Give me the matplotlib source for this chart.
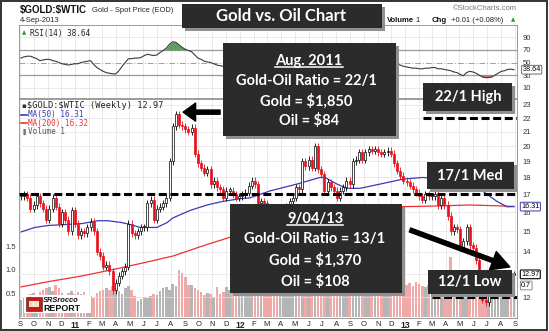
import numpy as np
import pandas as pd
import matplotlib
matplotlib.use("Agg")
import matplotlib.pyplot as plt
from matplotlib.patches import Rectangle
from matplotlib.lines import Line2D
from matplotlib.ticker import FixedLocator, NullLocator

W, H, DPI = 549, 331, 100

# ---------------- data (weekly, first week = 3-Sep-2010) ----------------
closes = [16.9, 17.0, 16.8, 16.2, 16.4, 16.9, 16.5, 16.2, 15.6, 16.2,
          16.8, 16.3, 15.4, 16.0, 15.6, 15.0, 16.1, 15.4, 14.8, 15.0,
          14.9, 15.2, 15.5, 15.0, 14.0, 13.8, 13.3, 13.4, 13.1, 12.3,
          12.6, 12.9, 13.1, 13.3, 15.4, 14.9, 14.8, 15.0, 15.2, 15.2,
          16.5, 16.7, 15.6, 16.2, 16.3, 16.5, 16.8, 19.0, 21.4, 22.3,
          21.5, 21.4, 21.2, 21.0, 21.3, 19.5, 18.9, 18.6, 18.3, 18.5,
          17.6, 17.8, 17.4, 17.3, 16.8, 17.2, 17.2, 17.0, 16.8, 16.9,
          17.0, 17.1, 17.5, 17.8, 17.6, 16.5, 16.6, 16.5, 16.2, 15.9,
          15.8, 15.6, 15.9, 16.1, 16.3, 16.6, 16.8, 17.4, 17.3, 19.0,
          18.7, 19.1, 18.6, 20.0, 18.5, 18.2, 17.2, 17.7, 17.4, 17.2,
          16.8, 17.2, 17.4, 17.8, 17.6, 19.0, 19.1, 19.6, 19.1, 19.6,
          19.8, 19.7, 19.8, 19.6, 19.5, 19.6, 19.7, 19.5, 18.9, 18.4,
          18.1, 17.8, 17.7, 17.5, 17.3, 17.1, 16.9, 16.7, 17.0, 16.9,
          16.9, 17.0, 16.4, 16.8, 16.4, 15.8, 15.0, 15.2, 15.1, 14.2,
          14.5, 15.2, 14.3, 14.2, 13.6, 12.7, 11.9, 11.8, 12.1, 12.3,
          12.5, 12.6, 12.8, 12.9, 13.0, 12.96, 12.97]

volumes = [0.36, 0.40, 0.45, 0.48, 0.51, 0.47, 0.54, 0.58, 0.61, 0.64,
           0.55, 0.68, 0.62, 0.51, 0.45, 0.52, 0.56, 0.49, 0.54, 0.50,
           0.54, 0.47, 0.44, 0.40, 0.52, 0.55, 0.58, 0.61, 0.57, 0.66,
           0.58, 0.55, 0.50, 0.61, 0.65, 0.57, 0.45, 0.33, 0.38, 0.42,
           0.40, 0.44, 0.50, 0.47, 0.55, 0.61, 0.64, 0.58, 0.70, 0.66,
           1.00, 0.93, 0.86, 0.68, 0.68, 0.62, 0.58, 0.54, 0.47, 0.51,
           0.48, 0.43, 0.64, 0.50, 0.54, 0.64, 0.58, 0.52, 0.47, 0.55,
           0.50, 0.48, 0.53, 0.57, 0.60, 0.55, 0.52, 0.49, 0.53, 0.56,
           0.58, 0.54, 0.50, 0.52, 0.57, 0.61, 0.55, 0.50, 0.58, 0.72,
           0.64, 0.59, 0.55, 0.68, 0.62, 0.57, 0.54, 0.50, 0.52, 0.55,
           0.58, 0.52, 0.49, 0.54, 0.56, 0.62, 0.58, 0.55, 0.51, 0.53,
           0.50, 0.48, 0.52, 0.55, 0.57, 0.54, 0.50, 0.53, 0.60, 0.63,
           0.66, 0.70, 0.68, 0.72, 0.65, 0.74, 0.70, 0.66, 0.64, 0.68,
           0.72, 0.66, 0.70, 0.74, 0.78, 0.85, 1.28, 0.80, 0.74, 0.70,
           0.76, 0.72, 0.68, 0.74, 0.80, 0.78, 0.74, 0.70, 0.66, 0.62,
           0.64, 0.60, 0.62, 0.66, 0.64, 0.70, 0.70]

rsi_values = [57, 59, 60, 60, 58, 56, 53, 54, 55, 55,
              53, 52, 50, 48, 47, 46, 47, 48, 48, 50,
              51, 52, 53, 47, 42, 39, 36, 34, 33, 32,
              32, 37, 44, 50, 56, 56, 57, 57, 58, 61,
              63, 62, 61, 62, 66, 69, 73, 79, 83, 82,
              78, 74, 71, 69, 67, 62, 57, 55, 52, 51,
              50, 48, 46, 45, 44, 45, 47, 46, 45, 46,
              48, 50, 52, 51, 47, 44, 43, 42, 41, 42,
              43, 44, 46, 48, 50, 52, 54, 56, 55, 60,
              59, 60, 58, 62, 57, 55, 51, 53, 52, 50,
              48, 50, 52, 54, 53, 58, 59, 61, 59, 61,
              62, 61, 61, 60, 59, 58, 58, 56, 52, 48,
              46, 44, 43, 42, 41, 41, 40, 40, 41, 41,
              42, 42, 40, 40, 39, 38, 37, 35, 34, 31,
              29, 34, 36, 35, 33, 30, 27, 26, 26, 27,
              30, 33, 36, 37, 39, 39.5, 38.64]

ma50_weeks = [0, 4.4, 8.5, 13.9, 19.3, 24.4, 27.5, 32, 34.5, 37.7, 43, 46.2,
              48.1, 53.5, 58.9, 63.9, 69.3, 72.5, 78.8, 87.3, 94.6, 96.2, 100,
              103.2, 107.3, 113.6, 120.9, 127.2, 135, 141, 146, 150.6, 153.8, 156]
ma50_values = [14.97, 15.2, 15.3, 15.35, 15.4, 15.55, 15.55, 15.45, 15.35, 15.2,
               15.2, 15.45, 15.7, 16.1, 16.4, 16.6, 16.75, 16.8, 17.2, 17.6,
               18.0, 18.0, 17.6, 17.35, 17.35, 17.6, 17.9, 18.0, 17.9, 17.6,
               17.2, 16.6, 16.3, 16.31]
ma200_weeks = [0, 8.5, 19.3, 29.7, 39.2, 48.1, 58.9, 66.1, 75, 85, 95, 107.3,
               116.8, 125, 132.6, 142, 151.6, 156]
ma200_values = [12.43, 12.65, 12.9, 13.2, 13.5, 13.8, 14.35, 14.7, 15.1, 15.5,
                15.9, 16.35, 16.3, 16.32, 16.35, 16.4, 16.35, 16.32]

month_labels = ['S', 'O', 'N', 'D', '11', 'F', 'M', 'A', 'M', 'J', 'J', 'A',
                'S', 'O', 'N', 'D', '12', 'F', 'M', 'A', 'M', 'J', 'J', 'A',
                'S', 'O', 'N', 'D', '13', 'F', 'M', 'A', 'M', 'J', 'J', 'A', 'S']
price_ticks = [12, 13, 14, 15, 16, 17, 18, 19, 20, 21, 22, 23]
price_tick_labels = ['12', '', '14', '15', '16', '17', '18', '19', '20', '21', '22', '23']
rsi_ticks = [10, 30, 50, 70, 90]
vol_ticks = [0.5, 1.0, 1.5]

assert len(closes) == len(volumes) == len(rsi_values) == 157

start = pd.Timestamp('2010-09-03')
month_pos = np.asarray((pd.date_range('2010-09-01', '2013-09-01', freq='MS') - start).days) / 7.0

RED = '#e8101c'
BOXC = '#2b2b2b'
GRID = '#e2e2e2'
SANS = 'Liberation Sans'
MONO = 'DejaVu Sans Mono'
BOLDF = 'Lato'

fig = plt.figure(figsize=(W / DPI, H / DPI), dpi=DPI)
fig.patch.set_facecolor('white')


def fx(px):
    return px / W


def fy(py):
    return 1 - py / H


def T(x, y, s, **kw):
    kw.setdefault('va', 'center')
    kw.setdefault('parse_math', False)
    return fig.text(fx(x), fy(y), s, **kw)


XL, XR = 19, 517
xlim = (-0.63, 156.96)

# ---------------- RSI panel ----------------
axr = fig.add_axes([fx(XL), fy(98), (XR - XL) / W, 73 / H])
n = len(closes)
weeks = np.arange(n)
r = np.array(rsi_values, dtype=float)
axr.set_xlim(*xlim)
axr.set_ylim(-6.3, 109.5)
for xv in month_pos:
    axr.axvline(xv, color=GRID, lw=0.5, zorder=0)
for yv in [10, 90]:
    axr.axhline(yv, color=GRID, lw=0.5, zorder=0)
axr.axhline(70, color='#9a9a9a', lw=0.9, zorder=1)
axr.axhline(30, color='#9a9a9a', lw=0.9, zorder=1)
axr.axhline(50, color='#a0a0a0', lw=0.7, ls=(0, (6, 2, 1, 2)), zorder=1)
axr.fill_between(weeks, 70, r, where=r > 70, interpolate=True, color='#5e9e5e', zorder=2, lw=0)
axr.fill_between(weeks, 30, r, where=r < 30, interpolate=True, color='#c87272', zorder=2, lw=0)
axr.plot(weeks, r, color='#3a3a3a', lw=0.8, zorder=3)
axr.yaxis.tick_right()
axr.yaxis.set_major_locator(FixedLocator(rsi_ticks))
axr.set_yticklabels([str(t) for t in rsi_ticks], fontsize=5.5, family=SANS, color='#333')
axr.tick_params(axis='y', length=0, pad=4)
axr.set_xticks([])
for sp in axr.spines.values():
    sp.set_color('#8a8a8a')
    sp.set_linewidth(0.6)
axr.text(0.006, 0.93, '\u25b2', transform=axr.transAxes, fontsize=4, color='#3d8a3d', va='top')
axr.text(0.022, 0.94, 'RSI(14) 38.64', transform=axr.transAxes, fontsize=5.6, family=MONO, color='#222', va='top')
axr.annotate('38.64', xy=(1, 38.64), xycoords=('axes fraction', 'data'), xytext=(4, 0),
             textcoords='offset points', fontsize=5.2, family=SANS, va='center', ha='left',
             bbox=dict(boxstyle='round,pad=0.12', fc='white', ec='#555', lw=0.6), annotation_clip=False)

# ---------------- main panel ----------------
axv = fig.add_axes([fx(XL), fy(318), (XR - XL) / W, 219 / H])
ax = axv.twinx()
axv.set_xlim(*xlim)
axv.set_ylim(-1 / 47, 218 / 47)
ax.set_yscale('log')
ax.set_ylim(11.19, 23.47)

c = np.array(closes)
o = np.r_[c[0], c[:-1]]
down = c < o
vcol = np.where(down, '#f0a9a9', '#b5b5b5')
axv.set_axisbelow(True)
axv.grid(axis='x', color=GRID, lw=0.5)
axv.bar(weeks, volumes, width=0.82, color=vcol, lw=0, zorder=1)
axv.yaxis.set_major_locator(FixedLocator(vol_ticks))
axv.set_yticklabels(['0.5', '1.0', '1.5'], fontsize=5.5, family=SANS, color='#333')
axv.tick_params(axis='y', length=0, pad=2)
axv.xaxis.set_major_locator(FixedLocator(month_pos))
axv.set_xticklabels(month_labels, fontsize=5.5, family=SANS, color='#222')
for lab in axv.get_xticklabels():
    if lab.get_text().isdigit():
        lab.set_fontweight('bold')
        lab.set_fontsize(6.2)
axv.tick_params(axis='x', length=0, pad=2.5)
for sp in axv.spines.values():
    sp.set_color('#8a8a8a')
    sp.set_linewidth(0.6)
for sp in ax.spines.values():
    sp.set_visible(False)

ax.set_axisbelow(True)
ax.yaxis.set_major_locator(FixedLocator(price_ticks))
ax.yaxis.set_minor_locator(NullLocator())
ax.set_yticklabels(price_tick_labels, fontsize=5.5, family=SANS, color='#333')
ax.tick_params(axis='y', length=0, pad=4)
ax.grid(axis='y', color=GRID, lw=0.5)

ax.plot(ma200_weeks, ma200_values, color='#f03030', lw=0.9, zorder=2)
ax.plot(ma50_weeks, ma50_values, color='#3a3ab4', lw=0.9, zorder=2)

top = np.maximum(o, c)
bot = np.minimum(o, c)
WICK = 1.012
ax.vlines(weeks, bot / WICK, top * WICK, colors=np.where(down, RED, 'black'), lw=0.6, zorder=3)
hgt = np.maximum(top - bot, bot * 0.006)
up = ~down
ax.bar(weeks[up], hgt[up], bottom=bot[up], width=0.64, facecolor='white', edgecolor='black', lw=0.5, zorder=4)
ax.bar(weeks[down], hgt[down], bottom=bot[down], width=0.64, facecolor=RED, edgecolor=RED, lw=0.5, zorder=4)

DASH = (0, (2.6, 1.2))
ax.axhline(17, color='black', lw=2.2, ls=DASH, zorder=5)
ax.hlines(22, 127.2, xlim[1], color='black', lw=2.2, ls=DASH, zorder=5)
ax.hlines(12, 130.1, xlim[1], color='black', lw=2.2, ls=DASH, zorder=5)

ax.annotate('', xy=(51.3, 22.45), xytext=(63.0, 22.45),
            arrowprops=dict(arrowstyle='simple,head_length=0.9,head_width=1.3,tail_width=0.3',
                            color='black', mutation_scale=10, shrinkA=0, shrinkB=0), zorder=6)
ax.annotate('', xy=(154.7, 13.3), xytext=(123.1, 15.07),
            arrowprops=dict(arrowstyle='simple,head_length=1.3,head_width=1.4,tail_width=0.3',
                            color='black', mutation_scale=10, shrinkA=0, shrinkB=0), zorder=6)

# right-edge value labels
ax.annotate('16.31', xy=(1, 16.31), xycoords=('axes fraction', 'data'), xytext=(3, 0),
            textcoords='offset points', fontsize=5.2, family=SANS, va='center', ha='left',
            bbox=dict(boxstyle='round,pad=0.12', fc='white', ec='#3a3ab4', lw=0.7), annotation_clip=False)
ax.annotate('12.97', xy=(1, 12.97), xycoords=('axes fraction', 'data'), xytext=(3, 0),
            textcoords='offset points', fontsize=5.2, family=SANS, va='center', ha='left',
            bbox=dict(boxstyle='round,pad=0.12', fc='white', ec='black', lw=0.8), annotation_clip=False)
axv.annotate('0.7', xy=(1, 0.7), xycoords=('axes fraction', 'data'), xytext=(3, -1),
             textcoords='offset points', fontsize=5.2, family=SANS, va='center', ha='left',
             bbox=dict(boxstyle='round,pad=0.12', fc='white', ec='#777', lw=0.6), annotation_clip=False)

# legend text in main panel
T(21, 106, '\u25aa', fontsize=5, color='#333')
T(27, 106, '$GOLD:$WTIC (Weekly) 12.97', fontsize=6.2, family=MONO, color='#222')
fig.add_artist(Line2D([fx(21), fx(27)], [fy(115)] * 2, color='#3a3ab4', lw=1.2))
T(28, 115, 'MA(50) 16.31', fontsize=5.5, family=MONO, color='#3a3ab4')
fig.add_artist(Line2D([fx(21), fx(27)], [fy(123.5)] * 2, color='#f03030', lw=1.2))
T(28, 123.5, 'MA(200) 16.32', fontsize=5.5, family=MONO, color='#f03030')
T(21, 132, '\u2590', fontsize=4.5, color='#777')
T(28, 132, 'Volume 1', fontsize=5.5, family=MONO, color='#555')

# ---------------- header ----------------
T(20, 10, '$GOLD:$WTIC', fontsize=7.0, family=SANS, weight='bold', color='#111')
T(92, 10.5, 'Gold - Spot Price (EOD)', fontsize=5.4, family=SANS, color='#222')
T(20, 20, '4-Sep-2013', fontsize=5.5, family=SANS, color='#222')
T(517, 9, '\u00a9StockCharts.com', fontsize=5.5, family=SANS, color='#777', ha='right')
T(387, 20, 'Volume', fontsize=5.6, family=SANS, weight='bold', color='#111')
T(415, 20, '1', fontsize=5.5, family=SANS, color='#222')
T(432, 20, 'Chg', fontsize=5.6, family=SANS, weight='bold', color='#111')
T(451, 20, '+0.01 (+0.08%)', fontsize=5.5, family=SANS, color='#222')
T(511, 19.5, '\u25b2', fontsize=4, family='DejaVu Sans', color='#2a9a2a')

# ---------------- annotation boxes ----------------


def box(x0, y0, x1, y1):
    fig.add_artist(Rectangle((fx(x0 + 3), fy(y1 + 3)), (x1 - x0) / W, (y1 - y0) / H,
                             facecolor='#909090', edgecolor='none', zorder=10))
    fig.add_artist(Rectangle((fx(x0), fy(y1)), (x1 - x0) / W, (y1 - y0) / H,
                             facecolor=BOXC, edgecolor='none', zorder=11))


def btext(x, y, s, size=10.5):
    return T(x, y, s, ha='center', fontsize=size, family=BOLDF, weight='bold', color='white', zorder=12)


box(182, 4, 382, 28)
btext(281, 16, 'Gold vs. Oil Chart', 12)

box(223, 43, 396, 136)
t1 = btext(309, 61, 'Aug. 2011')
btext(306, 81, 'Gold-Oil Ratio = 22/1')
btext(306, 101, 'Gold = $1,850')
btext(309, 121, 'Oil = $84')

box(423, 83, 512, 111)
btext(468, 97, '22/1 High')

box(427, 162, 514, 189)
btext(470, 176, '17/1 Med')

box(230, 204, 402, 293)
t2 = btext(315, 219, '9/04/13')
btext(315, 239, 'Gold-Oil Ratio = 13/1')
btext(315, 260, 'Gold = $1,370')
btext(315, 281, 'Oil = $108')

box(428, 270, 512, 294)
btext(470, 282, '12/1 Low')

# logo
fig.add_artist(Rectangle((fx(24), fy(313)), 67 / W, 18 / H, facecolor='white', edgecolor='none', zorder=10))
fig.add_artist(Rectangle((fx(26), fy(311)), 16 / W, 14 / H, facecolor='#d01818', edgecolor='#222', lw=0.4, zorder=11))
fig.add_artist(Rectangle((fx(29), fy(307)), 10 / W, 6 / H, facecolor='#f2e6c8', edgecolor='none', zorder=12))
T(43, 300, 'SRSrocco', fontsize=5.4, family=SANS, weight='bold', style='italic', color='#111', zorder=12)
T(43, 308.5, 'REPORT', fontsize=6.4, family=SANS, weight='bold', color='#111', zorder=12)

# underline the dates
fig.canvas.draw()
for t in (t1, t2):
    bb = t.get_window_extent()
    fig.add_artist(Line2D([bb.x0 / W, bb.x1 / W], [(bb.y0 + 1.5) / H] * 2, color='white', lw=1.1, zorder=12))

# outer frame
fig.add_artist(Rectangle((0.002, 0.003), 0.995, 0.994, facecolor='none', edgecolor='#333', lw=1.4, zorder=20))

fig.savefig('out.png', dpi=DPI, facecolor='white')
